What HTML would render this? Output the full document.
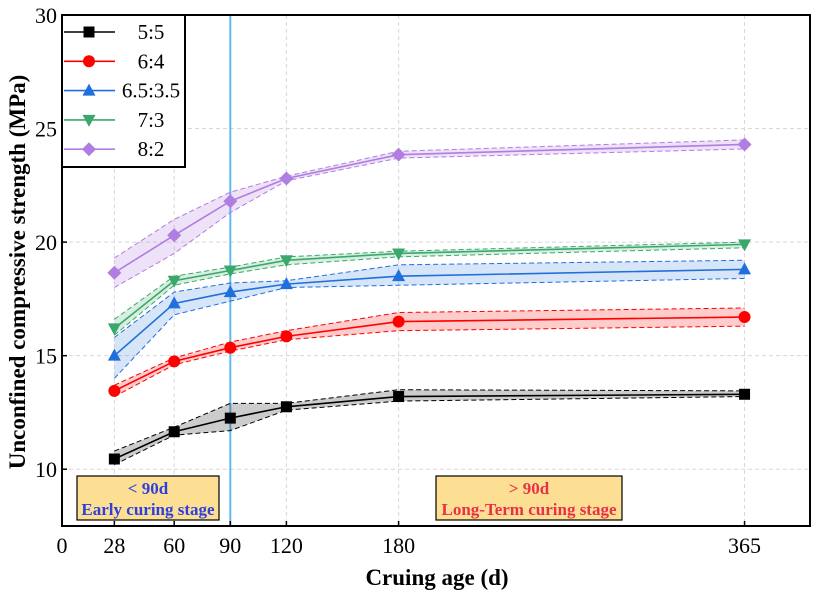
<!DOCTYPE html>
<html><head><meta charset="utf-8"><style>
html,body{margin:0;padding:0;background:#fff;}
svg{display:block;font-family:"Liberation Serif",serif;}
</style></head><body>
<svg id="chart" width="816" height="594" viewBox="0 0 816 594" xmlns="http://www.w3.org/2000/svg"></svg>
<script>
const days = [28, 60, 90, 120, 180, 365];
const seriesNames = ["5:5", "6:4", "6.5:3.5", "7:3", "8:2"];
const s55 = [10.45, 11.65, 12.25, 12.75, 13.2, 13.3];
const s64 = [13.45, 14.75, 15.35, 15.85, 16.5, 16.7];
const s6535 = [15.0, 17.3, 17.8, 18.15, 18.5, 18.8];
const s73 = [16.2, 18.3, 18.75, 19.2, 19.5, 19.9];
const s82 = [18.65, 20.3, 21.8, 22.8, 23.85, 24.3];
const up55 = [10.8, 11.85, 12.9, 12.9, 13.5, 13.45];
const lo55 = [10.2, 11.5, 11.7, 12.6, 13.0, 13.2];
const up64 = [13.7, 14.9, 15.6, 16.1, 16.9, 17.1];
const lo64 = [13.2, 14.6, 15.2, 15.7, 16.1, 16.3];
const up6535 = [15.8, 17.8, 18.2, 18.3, 19.0, 19.2];
const lo6535 = [14.0, 16.8, 17.4, 18.0, 18.1, 18.4];
const up73 = [16.6, 18.5, 18.9, 19.35, 19.6, 20.0];
const lo73 = [15.9, 18.1, 18.6, 19.0, 19.35, 19.75];
const up82 = [19.3, 21.0, 22.2, 22.9, 24.0, 24.5];
const lo82 = [18.0, 19.5, 21.3, 22.7, 23.7, 24.1];
const xTicks = [0, 28, 60, 90, 120, 180, 365];
const yTicks = [10, 15, 20, 25, 30];

const L=62, R=810, T=15, B=526;
const xMin=0, xMax=400, yMin=7.5, yMax=30;
const X=v=>L+(v-xMin)/(xMax-xMin)*(R-L);
const Y=v=>B-(v-yMin)/(yMax-yMin)*(B-T);
const svg=document.getElementById('chart');
const NS="http://www.w3.org/2000/svg";
function mk(tag,attrs,parent){const e=document.createElementNS(NS,tag);for(const k in attrs)e.setAttribute(k,attrs[k]);(parent||svg).appendChild(e);return e;}

const grid=mk('g',{});


xTicks.forEach(t=>{if(t>0)mk('line',{x1:X(t),x2:X(t),y1:T,y2:B,stroke:'#d8d8d8','stroke-dasharray':'4,3','stroke-width':1},grid);});
yTicks.forEach(t=>mk('line',{x1:L,x2:R,y1:Y(t),y2:Y(t),stroke:'#d8d8d8','stroke-dasharray':'4,3','stroke-width':1},grid));

const vl=mk('line',{x1:X(90),x2:X(90),y1:T,y2:B,stroke:'#5ebcf2','stroke-width':2});



const colors=['#000000','#ff0000','#1f6fdc','#3aa86b','#b07de0'];
const fills=['rgba(0,0,0,0.2)','rgba(255,0,0,0.2)','rgba(31,111,220,0.18)','rgba(58,168,107,0.2)','rgba(176,125,224,0.22)'];
const mids=[s55,s64,s6535,s73,s82], ups=[up55,up64,up6535,up73,up82], los=[lo55,lo64,lo6535,lo73,lo82];
const markers=['square','circle','tri','tridown','diamond'];
function marker(type,x,y,c,g){
  if(type==='square')return mk('rect',{x:x-5.5,y:y-5.5,width:11,height:11,fill:c},g);
  if(type==='circle')return mk('circle',{cx:x,cy:y,r:6,fill:c},g);
  if(type==='tri')return mk('polygon',{points:`${x},${y-7} ${x+6.5},${y+5} ${x-6.5},${y+5}`,fill:c},g);
  if(type==='tridown')return mk('polygon',{points:`${x-6.5},${y-5} ${x+6.5},${y-5} ${x},${y+7}`,fill:c},g);
  return mk('polygon',{points:`${x},${y-7} ${x+7},${y} ${x},${y+7} ${x-7},${y}`,fill:c},g);
}
mids.forEach((m,i)=>{
  const g=mk('g',{});
  
  
  const upPts=days.map((d,j)=>X(d)+','+Y(ups[i][j]));
  const loPts=days.map((d,j)=>X(d)+','+Y(los[i][j]));
  const band=mk('polygon',{points:upPts.concat(loPts.slice().reverse()).join(' '),fill:fills[i]},g);
  
  
  mk('polyline',{points:upPts.join(' '),fill:'none',stroke:colors[i],'stroke-width':1,'stroke-dasharray':'5,3'},g);
  mk('polyline',{points:loPts.join(' '),fill:'none',stroke:colors[i],'stroke-width':1,'stroke-dasharray':'5,3'},g);
  mk('polyline',{points:days.map((d,j)=>X(d)+','+Y(m[j])).join(' '),fill:'none',stroke:colors[i],'stroke-width':1.6},g);
  days.forEach((d,j)=>{const p=marker(markers[i],X(d),Y(m[j]),colors[i],g);
    
    });
});

function box(x1,x2,l1,l2,c,name){
  const g=mk('g',{});
  
  
  mk('rect',{x:x1,y:476,width:x2-x1,height:44,fill:'#fddf93',stroke:'#000','stroke-width':1.2},g);
  const cx=(x1+x2)/2;
  const t1=mk('text',{x:cx,y:494,'text-anchor':'middle','font-size':17,'font-weight':'bold',fill:c},g);t1.textContent=l1;
  const t2=mk('text',{x:cx,y:515,'text-anchor':'middle','font-size':17,'font-weight':'bold',fill:c},g);t2.textContent=l2;
}
box(77,219,'< 90d','Early curing stage','#2d3fe0','early-stage-annotation');
box(436,622,'> 90d','Long-Term curing stage','#e8304a','long-term-stage-annotation');

const fr=mk('rect',{x:L,y:T,width:R-L,height:B-T,fill:'none',stroke:'#000','stroke-width':2});



const xa=mk('g',{});


xTicks.forEach(t=>{mk('line',{x1:X(t),x2:X(t),y1:B,y2:B-5,stroke:'#000','stroke-width':1.5},xa);
  const tx=mk('text',{x:X(t),y:B+27,'text-anchor':'middle','font-size':22},xa);tx.textContent=t;});
const ya=mk('g',{});


yTicks.forEach(t=>{mk('line',{x1:L,x2:L+5,y1:Y(t),y2:Y(t),stroke:'#000','stroke-width':1.5},ya);
  const tx=mk('text',{x:L-5,y:Y(t)+8,'text-anchor':'end','font-size':22},ya);tx.textContent=t;});
const xt=mk('text',{x:437,y:585,'text-anchor':'middle','font-size':23,'font-weight':'bold'});
xt.textContent='Cruing age (d)';


const yt=mk('text',{x:0,y:0,transform:'translate(25,272) rotate(-90)','text-anchor':'middle','font-size':23,'font-weight':'bold'});
yt.textContent='Unconfined compressive strength (MPa)';



const lg=mk('g',{});


mk('rect',{x:L,y:T,width:123,height:152,fill:'#fff',stroke:'#000','stroke-width':2},lg);
seriesNames.forEach((n,i)=>{
  const y=32+i*29.3;
  const e=mk('g',{},lg);
  
  
  mk('line',{x1:64,x2:115,y1:y,y2:y,stroke:colors[i],'stroke-width':1.6},e);
  marker(markers[i],89,y,colors[i],e);
  const t=mk('text',{x:151,y:y+7,'text-anchor':'middle','font-size':21},e);t.textContent=n;
});
</script>
</body></html>
